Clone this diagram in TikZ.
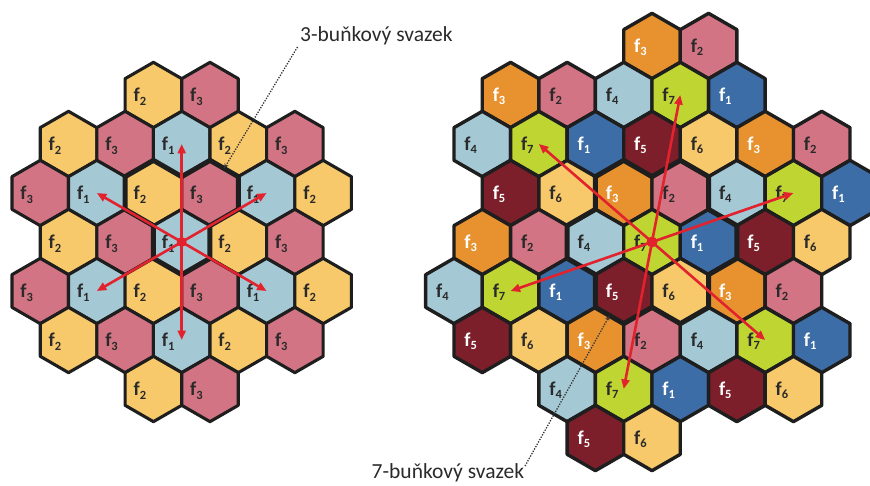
\documentclass[tikz,border=0pt]{standalone}
\usepackage{fontspec}
\setmainfont{Carlito}
\usetikzlibrary{arrows.meta,calc}
\definecolor{l1}{HTML}{A4C8D4}
\definecolor{l2}{HTML}{F8C96B}
\definecolor{l3}{HTML}{D27483}
\definecolor{r1}{HTML}{3D6DA6}
\colorlet{r2}{l3}
\definecolor{r3}{HTML}{E8922F}
\colorlet{r4}{l1}
\definecolor{r5}{HTML}{7C1F2B}
\colorlet{r6}{l2}
\definecolor{r7}{HTML}{BFD632}
\definecolor{tdark}{HTML}{2A2A2A}
\colorlet{tl1}{tdark}\colorlet{tl2}{tdark}\colorlet{tl3}{tdark}
\colorlet{tr1}{white}\colorlet{tr2}{tdark}\colorlet{tr3}{white}\colorlet{tr4}{tdark}
\colorlet{tr5}{white}\colorlet{tr6}{tdark}\colorlet{tr7}{tdark}
\definecolor{cred}{HTML}{E2232E}
\definecolor{cline}{HTML}{1E1E1E}
\newcommand\fsub[1]{f\raisebox{-3.6pt}{\fontsize{12.5}{12.5}\selectfont #1}}
\def\HW{28.29}\def\HH{16.33}\def\HR{32.67}\def\CW{56.58}
\begin{document}
\begin{tikzpicture}[x=1pt,y=-1pt,
  hexcell/.style={draw=cline,line join=round},
  cellabel/.style={font=\fontsize{19.5}{19.5}\selectfont\bfseries,anchor=base west,inner sep=0pt},
  cluster/.style={draw=cline,line width=5pt,line join=round},
  redarrow/.style={draw=cred,line width=2.6pt,-{Triangle[length=9.5pt,width=8pt]}},
  pointer/.style={draw=black!80,line width=1.3pt,dash pattern=on 1.3pt off 1.4pt,-{Stealth[length=5pt,width=4.5pt]}},
  caption/.style={font=\fontsize{21.5}{21.5}\selectfont,text=tdark,inner sep=0pt,anchor=west}]
\useasboundingbox (0,0) rectangle (870,486);
% ---------- left grid (3 frequencies) ----------
\def\cx{181.7}\def\cy{242}
\foreach \d/\ks/\cells in {-3/-1/{2,3},-2/-2/{2,3,1,2,3},-1/-3/{3,1,2,3,1,2},0/-2/{2,3,1,2,3},1/-3/{3,1,2,3,1,2},2/-2/{2,3,1,2,3},3/-1/{2,3}}{
  \foreach \c [count=\i from 0] in \cells {
    \pgfmathsetmacro{\xx}{\cx+\CW*(\ks+\i+0.5*mod(abs(\d),2))}
    \pgfmathsetmacro{\yy}{\cy+49*\d}
    \coordinate (L\d x\i) at (\xx,\yy);
    \path[hexcell,fill=l\c,line width=3.1pt] (\xx,\yy) ++(0,-\HR) -- ++(\HW,\HH) -- ++(0,\HR) -- ++(-\HW,\HH) -- ++(-\HW,-\HH) -- ++(0,-\HR) -- cycle;
    \node[cellabel,text=tl\c,name=LT\d-\i] at (\xx-20,\yy+6.8) {\fsub{\c}};
  }
}
% 3-cell cluster outline
\draw[cluster] ($(L-1x2)+(0,-\HR)$) -- ++(\HW,\HH) -- ++(\HW,-\HH) -- ++(\HW,\HH) -- ++(0,\HR) -- ++(-\HW,\HH) -- ++(0,\HR) -- ++(-\HW,\HH) -- ++(-\HW,-\HH) -- ++(0,-\HR) -- ++(-\HW,-\HH) -- ++(0,-\HR) -- cycle;
\coordinate (p3) at ($(L-1x3)+(14.1,-24.5)$);
% ---------- right grid (7 frequencies) ----------
\def\cx{652}\def\cy{242}
\foreach \d/\ks/\cells in {-4/0/{3,2},-3/-3/{3,2,4,7,1},-2/-3/{4,7,1,5,6,3,2},-1/-3/{5,6,3,2,4,7,1},0/-3/{3,2,4,7,1,5,6},1/-4/{4,7,1,5,6,3,2},2/-3/{5,6,3,2,4,7,1},3/-2/{4,7,1,5,6},4/-1/{5,6}}{
  \foreach \c [count=\i from 0] in \cells {
    \pgfmathsetmacro{\xx}{\cx+\CW*(\ks+\i+0.5*mod(abs(\d),2))}
    \pgfmathsetmacro{\yy}{\cy+49*\d}
    \coordinate (R\d x\i) at (\xx,\yy);
    \path[hexcell,fill=r\c,line width=3.4pt] (\xx,\yy) ++(0,-\HR) -- ++(\HW,\HH) -- ++(0,\HR) -- ++(-\HW,\HH) -- ++(-\HW,-\HH) -- ++(0,-\HR) -- cycle;
    \node[cellabel,text=tr\c,name=RT\d-\i] at (\xx-18,\yy+6.3) {\fsub{\c}};
  }
}
% 7-cell cluster outline
\draw[cluster] ($(R-1x2)+(0,-\HR)$) -- ++(\HW,\HH) -- ++(\HW,-\HH) -- ++(\HW,\HH) -- ++(0,\HR) -- ++(\HW,\HH) -- ++(0,\HR) -- ++(-\HW,\HH) -- ++(0,\HR) -- ++(-\HW,\HH) -- ++(-\HW,-\HH) -- ++(-\HW,\HH) -- ++(-\HW,-\HH) -- ++(0,-\HR) -- ++(-\HW,-\HH) -- ++(0,-\HR) -- ++(\HW,-\HH) -- ++(0,-\HR) -- cycle;
\coordinate (p7) at ($(R1x3)+(-14.1,24.5)$);
% ---------- red arrows ----------
\foreach \t in {L-2x2,L2x2,L-1x1,L-1x4,L1x1,L1x4}{\draw[redarrow] (L0x2) -- (\t);}
\fill[cred] (L0x2) circle (5pt);
\foreach \t in {R-3x3,R-2x1,R-1x5,R1x1,R2x5,R3x1}{\draw[redarrow] (R0x3) -- (\t);}
\fill[cred] (R0x3) circle (5.5pt);
% ---------- captions ----------
\node[caption] (c3) at (300,36) {3-buňkový svazek};
\node[caption] (c7) at (371.5,473) {7-buňkový svazek};
\coordinate (s3) at (297.5,47);
\coordinate (s7) at (525,466);
\draw[pointer] (s3) -- (p3);
\draw[pointer] (s7) -- (p7);
\end{tikzpicture}
\end{document}
